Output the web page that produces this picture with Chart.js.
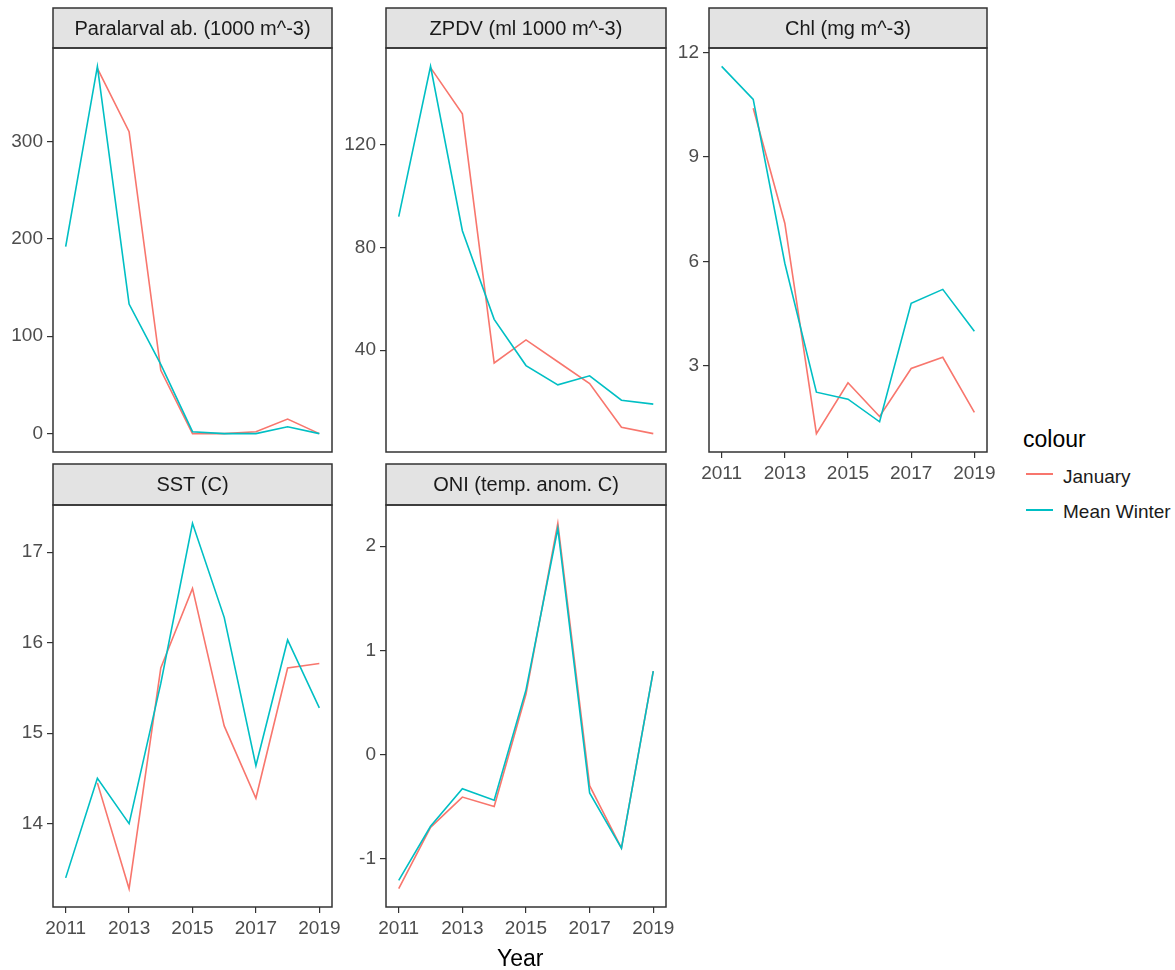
<!DOCTYPE html>
<html>
<head>
<meta charset="utf-8">
<script src="https://cdn.jsdelivr.net/npm/chart.js@4.4.1/dist/chart.umd.min.js"></script>
<style>
  body { margin: 0; background: #fff; font-family: "Liberation Sans", Arial, sans-serif; }
  #wrap { position: relative; width: 1175px; height: 970px; overflow: hidden; }
  canvas { position: absolute; }
  .txt { position: absolute; white-space: nowrap; color: #000; }
  .key { position: absolute; width: 27px; height: 2px; }
</style>
</head>
<body>
<div id="wrap">
  <canvas id="c1"></canvas>
  <canvas id="c2"></canvas>
  <canvas id="c3"></canvas>
  <canvas id="c4"></canvas>
  <canvas id="c5"></canvas>

  <div class="txt" style="left:497px;top:945px;font-size:23px;line-height:26px;">Year</div>

  <div class="txt" style="left:1023px;top:426px;font-size:23px;line-height:26px;">colour</div>
  <div class="key" style="left:1026px;top:473px;background:#F8766D;"></div>
  <div class="txt" style="left:1063px;top:465px;font-size:19px;line-height:24px;color:#1A1A1A;">January</div>
  <div class="key" style="left:1026px;top:509px;background:#00BFC4;"></div>
  <div class="txt" style="left:1063px;top:500px;font-size:19px;line-height:24px;color:#1A1A1A;">Mean Winter</div>
</div>

<script>
/* ---------- data ---------- */

const years = [2011, 2012, 2013, 2014, 2015, 2016, 2017, 2018, 2019];
const xTicks = [2011, 2013, 2015, 2017, 2019];

const parJan = [null, 375, 310, 65, 0, 0, 2, 15, 0];
const parWin = [192, 377, 133, 71, 2, 0, 0, 7, 0];
const parTicks = [0, 100, 200, 300];

const zpdvJan = [null, 150, 132, 35, 44, 35.5, 27, 10, 7.5];
const zpdvWin = [92, 150.5, 86.5, 52, 34, 26.5, 30, 20.5, 19];
const zpdvTicks = [40, 80, 120];

const chlJan = [null, 10.4, 7.1, 1.06, 2.52, 1.55, 2.93, 3.25, 1.67];
const chlWin = [11.6, 10.65, 5.95, 2.25, 2.05, 1.4, 4.8, 5.2, 4.0];
const chlTicks = [3, 6, 9, 12];

const sstJan = [null, 14.45, 13.28, 15.72, 16.6, 15.08, 14.28, 15.72, 15.77];
const sstWin = [13.4, 14.5, 14.0, 15.55, 17.32, 16.28, 14.64, 16.03, 15.28];
const sstTicks = [14, 15, 16, 17];

const oniJan = [-1.29, -0.7, -0.41, -0.5, 0.58, 2.22, -0.3, -0.9, 0.8];
const oniWin = [-1.21, -0.69, -0.33, -0.44, 0.62, 2.17, -0.37, -0.9, 0.8];
const oniTicks = [-1, 0, 1, 2];

const seriesNames = ['January', 'Mean Winter'];
const seriesColors = ['#F8766D', '#00BFC4'];

/* ---------- layout ---------- */

const AXW = 54;     // room for y tick labels
const XAH = 34;     // room for x tick labels
const BPAD = 18;    // bottom room when a panel has no x axis
const RPAD = 30;
const FONT = '"Liberation Sans", Arial, sans-serif';

const panels = [
    { id: 'c1', title: 'Paralarval ab. (1000 m^-3)', jan: parJan, win: parWin, yTicks: parTicks,
      left: 53, top: 48, w: 279, h: 404, strip: 40, xAxis: false },
    { id: 'c2', title: 'ZPDV (ml 1000 m^-3)', jan: zpdvJan, win: zpdvWin, yTicks: zpdvTicks,
      left: 386, top: 48, w: 280, h: 404, strip: 40, xAxis: false },
    { id: 'c3', title: 'Chl (mg m^-3)', jan: chlJan, win: chlWin, yTicks: chlTicks,
      left: 709, top: 48, w: 278, h: 404, strip: 40, xAxis: true },
    { id: 'c4', title: 'SST (C)', jan: sstJan, win: sstWin, yTicks: sstTicks,
      left: 53, top: 505, w: 279, h: 402, strip: 41, xAxis: true },
    { id: 'c5', title: 'ONI (temp. anom. C)', jan: oniJan, win: oniWin, yTicks: oniTicks,
      left: 386, top: 505, w: 280, h: 402, strip: 41, xAxis: true }
];

/* ---------- helpers ---------- */

function expandRange(a, b) {
    const v = a.concat(b).filter(x => x !== null);
    const mn = Math.min(...v), mx = Math.max(...v);
    const d = (mx - mn) * 0.05;
    return [mn - d, mx + d];
}

const panelFrame = {
    id: 'panelFrame',
    afterDraw(chart, args, opts) {
        const { ctx, chartArea: a } = chart;
        ctx.save();
        ctx.fillStyle = '#E3E3E3';
        ctx.fillRect(a.left, a.top - opts.strip, a.right - a.left, opts.strip);
        ctx.strokeStyle = '#333333';
        ctx.lineWidth = 1.5;
        ctx.strokeRect(a.left, a.top - opts.strip, a.right - a.left, opts.strip);
        ctx.strokeRect(a.left, a.top, a.right - a.left, a.bottom - a.top);
        ctx.fillStyle = '#1A1A1A';
        ctx.font = '20px ' + FONT;
        ctx.textAlign = 'center';
        ctx.textBaseline = 'middle';
        ctx.fillText(opts.title, (a.left + a.right) / 2, a.top - opts.strip / 2 + 1);
        ctx.restore();
    }
};

/* ---------- charts ---------- */

Chart.defaults.font.family = FONT;
Chart.defaults.font.size = 19;
Chart.defaults.color = '#4D4D4D';

function renderPanel(p) {
    const el = document.getElementById(p.id);
    const bottom = p.xAxis ? XAH : BPAD;
    const width = AXW + p.w + RPAD;
    const height = p.strip + 2 + p.h + bottom;
    el.width = width;
    el.height = height;
    el.style.width = width + 'px';
    el.style.height = height + 'px';
    el.style.left = (p.left - AXW) + 'px';
    el.style.top = (p.top - p.strip - 2) + 'px';

    const [yMin, yMax] = expandRange(p.jan, p.win);
    const toPoints = vals => years.map((yr, i) => ({ x: yr, y: vals[i] }));

    new Chart(el, {
        type: 'line',
        data: {
            datasets: [
                { label: seriesNames[0], data: toPoints(p.jan), borderColor: seriesColors[0],
                  borderWidth: 1.6, pointRadius: 0, tension: 0, order: 1 },
                { label: seriesNames[1], data: toPoints(p.win), borderColor: seriesColors[1],
                  borderWidth: 1.6, pointRadius: 0, tension: 0, order: 0 }
            ]
        },
        options: {
            responsive: false,
            animation: false,
            devicePixelRatio: 1,
            layout: { padding: { top: p.strip + 2, right: RPAD, bottom: p.xAxis ? 0 : BPAD, left: 0 } },
            plugins: {
                legend: { display: false },
                tooltip: { enabled: false },
                panelFrame: { title: p.title, strip: p.strip }
            },
            scales: {
                x: {
                    type: 'linear',
                    min: 2010.6,
                    max: 2019.4,
                    display: p.xAxis,
                    afterBuildTicks: s => { s.ticks = xTicks.map(v => ({ value: v })); },
                    afterFit: s => { s.height = p.xAxis ? XAH : 0; },
                    ticks: { callback: v => String(v), padding: 4, maxRotation: 0, autoSkip: false },
                    grid: { drawOnChartArea: false, drawTicks: true, tickLength: 6, color: '#333333', lineWidth: 1.2 },
                    border: { display: false }
                },
                y: {
                    type: 'linear',
                    min: yMin,
                    max: yMax,
                    afterBuildTicks: s => { s.ticks = p.yTicks.map(v => ({ value: v })); },
                    afterFit: s => { s.width = AXW; },
                    ticks: { callback: v => String(v), padding: 4 },
                    grid: { drawOnChartArea: false, drawTicks: true, tickLength: 6, color: '#333333', lineWidth: 1.2 },
                    border: { display: false }
                }
            }
        },
        plugins: [panelFrame]
    });
}

panels.forEach(renderPanel);
</script>
</body>
</html>
